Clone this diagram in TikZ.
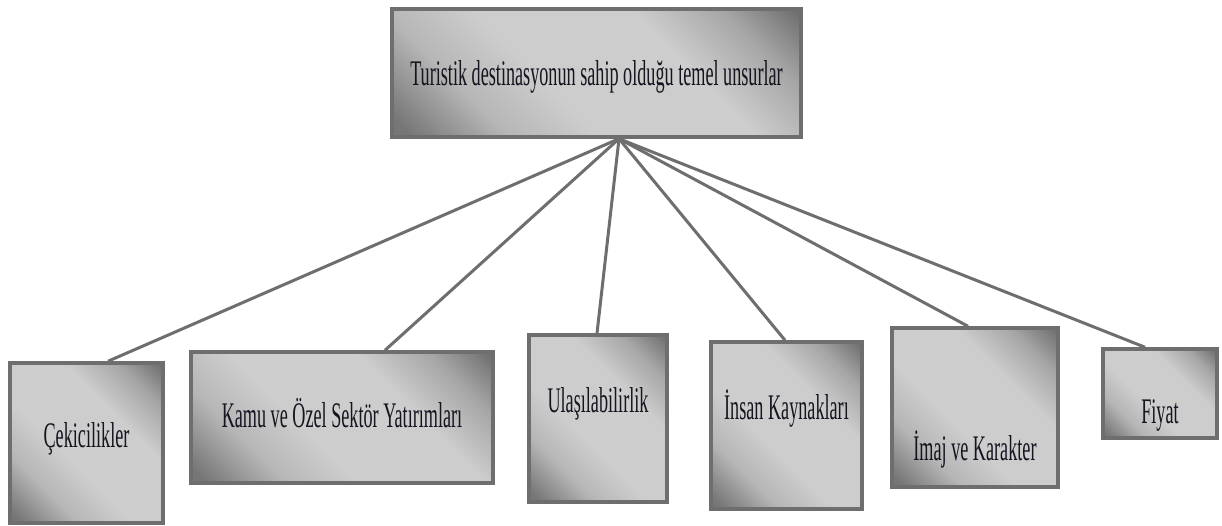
\documentclass[tikz,border=0pt]{standalone}
\usepackage{fontspec}
\setmainfont{Liberation Serif}[FakeStretch=0.505]
\usetikzlibrary{calc,backgrounds}

\definecolor{edgegray}{HTML}{6E6E6E}
\definecolor{shdark}{HTML}{686868}
\definecolor{shdarkb}{HTML}{767676}
\definecolor{shmid}{HTML}{B6B6B6}
\definecolor{shmidb}{HTML}{A6A6A6}
\definecolor{shlight}{HTML}{CDCDCD}
\definecolor{inktext}{HTML}{151520}

% diagonal metallic fill: dark towards the top-right and bottom-left corners
\pgfdeclarehorizontalshading{boxshade}{100bp}{color(0bp)=(shdarkb); color(17bp)=(shdarkb); color(30bp)=(shmid); color(42bp)=(shlight); color(63bp)=(shlight); color(75bp)=(shmidb); color(86bp)=(shdark); color(100bp)=(shdark)}

\begin{document}
\begin{tikzpicture}[x=1pt,y=-1pt,
  box/.style={draw=edgegray, line width=3.5pt, shade, shading=boxshade,
    shading angle=45, inner sep=0pt},
  lbl/.style={font=\fontsize{36}{40}\selectfont, text=inktext, inner sep=0pt, anchor=base},
  link/.style={draw=edgegray, line width=3pt}]
\useasboundingbox (0,0) rectangle (1222,526);

% root box
\node[box, minimum width=409pt, minimum height=128pt] (top) at (596.5,73) {};
\node[lbl] (ttop) at ($(top.center)+(0,13)$) {Turistik destinasyonun sahip olduğu temel unsurlar};

% child boxes
\node[box, minimum width=153pt, minimum height=160pt] (b1) at (86.5,443) {};
\node[lbl] (t1) at ($(b1.center)+(0,4)$) {Çekicilikler};

\node[box, minimum width=302pt, minimum height=131pt] (b2) at (342,417.5) {};
\node[lbl] (t2) at ($(b2.center)+(0,9.5)$) {Kamu ve Özel Sektör Yatırımları};

\node[box, minimum width=138pt, minimum height=167pt] (b3) at (598,418.5) {};
\node[lbl] (t3) at ($(b3.center)+(0,-6.5)$) {Ulaşılabilirlik};

\node[box, minimum width=151pt, minimum height=167pt] (b4) at (786.5,425.5) {};
\node[lbl] (t4) at ($(b4.center)+(0,-6.5)$) {İnsan Kaynakları};

\node[box, minimum width=166pt, minimum height=159pt] (b5) at (975,407.5) {};
\node[lbl] (t5) at ($(b5.center)+(0,52.5)$) {İmaj ve Karakter};

\node[box, minimum width=114pt, minimum height=89pt] (b6) at (1160,393.5) {};
\node[lbl] (t6) at ($(b6.center)+(0,29.5)$) {Fiyat};

% connectors fan out from one point under the root box
\coordinate (hub) at ($(top.south)+(22.5,0)$);
\begin{scope}[on background layer]
  \draw[link] (hub) -- ($(b1.north)+(21.5,0)$);
  \draw[link] (hub) -- ($(b2.north)+(43,0)$);
  \draw[link] (hub) -- ($(b3.north)+(-1,0)$);
  \draw[link] (hub) -- ($(b4.north)+(-1.5,0)$);
  \draw[link] (hub) -- ($(b5.north)+(-7,0)$);
  \draw[link] (hub) -- ($(b6.north)+(-15,0)$);
\end{scope}
\end{tikzpicture}
\end{document}
